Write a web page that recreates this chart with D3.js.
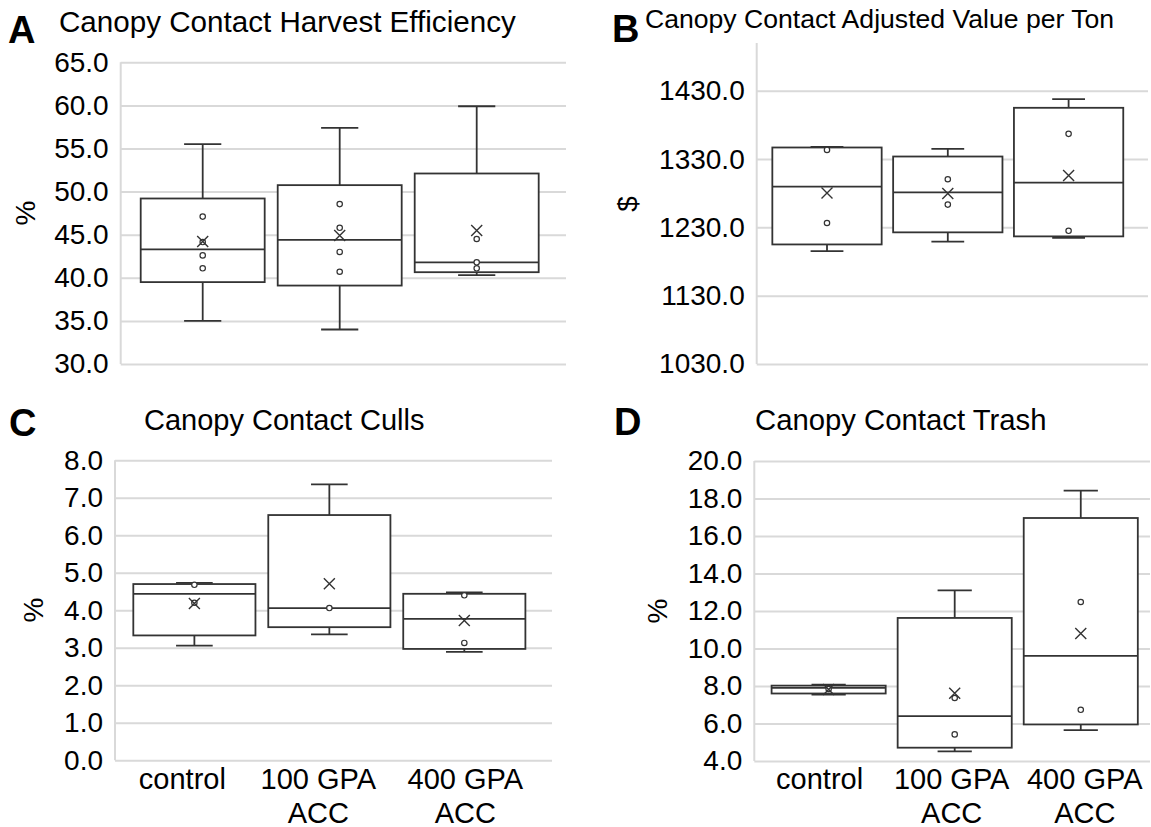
<!DOCTYPE html>
<html>
<head>
<meta charset="utf-8">
<script src="https://cdn.jsdelivr.net/npm/d3@7"></script>
<style>
  body { margin: 0; background: #fff; }
  svg text { font-family: "Liberation Sans", Arial, sans-serif; fill: #000; }
</style>
</head>
<body>
<div id="chart"></div>
<script>
const categories = ["control", "100 GPA ACC", "400 GPA ACC"];

// box stats per treatment
const harvestEfficiency = [
    {min: 35.0, q1: 39.5, median: 43.3, q3: 49.2, max: 55.5, mean: 44.2, points: [47.1, 44.15, 42.6, 41.1]},
    {min: 34.0, q1: 39.1, median: 44.4, q3: 50.75, max: 57.4, mean: 44.9, points: [48.55, 45.8, 43.0, 40.7]},
    {min: 40.3, q1: 40.65, median: 41.8, q3: 52.1, max: 59.9, mean: 45.5, points: [44.5, 41.8, 41.1]}
];
const valuePerTon = [
    {min: 1195.3, q1: 1205, median: 1289.7, q3: 1346.9, max: 1347.8, mean: 1280.4, points: [1343.4, 1236.4]},
    {min: 1209, q1: 1222.7, median: 1281.3, q3: 1333.7, max: 1344.9, mean: 1279.4, points: [1300.4, 1263.3]},
    {min: 1214.8, q1: 1216.8, median: 1295.5, q3: 1405, max: 1417.8, mean: 1305.8, points: [1366.9, 1225]}
];
const culls = [
    {min: 3.06, q1: 3.33, median: 4.44, q3: 4.70, max: 4.73, mean: 4.18, points: [4.68, 4.2]},
    {min: 3.36, q1: 3.55, median: 4.06, q3: 6.54, max: 7.36, mean: 4.71, points: [4.06]},
    {min: 2.89, q1: 2.97, median: 3.77, q3: 4.44, max: 4.48, mean: 3.73, points: [4.4, 3.13]}
];
const trash = [
    {min: 7.54, q1: 7.6, median: 7.9, q3: 8.02, max: 8.07, mean: 7.81, points: [7.84]},
    {min: 4.51, q1: 4.71, median: 6.39, q3: 11.63, max: 13.1, mean: 7.61, points: [7.36, 5.42]},
    {min: 5.65, q1: 5.95, median: 9.61, q3: 16.96, max: 18.42, mean: 10.8, points: [12.48, 6.73]}
];

const effTicks = [30, 35, 40, 45, 50, 55, 60, 65];
const valueTicks = [1030, 1130, 1230, 1330, 1430];
const cullTicks = [0, 1, 2, 3, 4, 5, 6, 7, 8];
const trashTicks = [4, 6, 8, 10, 12, 14, 16, 18, 20];

const panels = [
    {letter: "A", title: "Canopy Contact Harvest Efficiency", unit: "%", data: harvestEfficiency,
     ticks: effTicks, domain: [30, 65], yRange: [364, 62.3], left: 120.7, right: 566,
     xRange: [134.2, 545.2], showX: false,
     letterPos: [8, 43], titlePos: [59, 32], titleSize: 29.6, unitPos: [25, 213]},
    {letter: "B", title: "Canopy Contact Adjusted Value per Ton", unit: "$", data: valuePerTon,
     ticks: valueTicks, domain: [1030, 1500], yRange: [364, 42.9], left: 756.7, right: 1148,
     xRange: [766.6, 1129], showX: false,
     letterPos: [612, 42], titlePos: [645, 28], titleSize: 26.6, unitPos: [627, 204]},
    {letter: "C", title: "Canopy Contact Culls", unit: "%", data: culls,
     ticks: cullTicks, domain: [0, 8], yRange: [760.3, 460.3], left: 115, right: 552,
     xRange: [126.9, 531.8], showX: true, labelShift: [-12, -11, 1],
     letterPos: [9, 436], titlePos: [144, 430], titleSize: 29, unitPos: [33, 610]},
    {letter: "D", title: "Canopy Contact Trash", unit: "%", data: trash,
     ticks: trashTicks, domain: [4, 20], yRange: [761, 461], left: 754.3, right: 1150,
     xRange: [765.6, 1143.8], showX: true, labelShift: [-9, -3, 4],
     letterPos: [614, 435], titlePos: [755, 430], titleSize: 29.3, unitPos: [657, 611]}
];

const svg = d3.select("#chart")
    .append("svg")
    .attr("width", 1151)
    .attr("height", 827);

const gridColor = "#d9d9d9";
const boxColor = "#333";

panels.forEach(p => {
    const y = d3.scaleLinear().domain(p.domain).range(p.yRange);
    const x = d3.scalePoint().domain(categories).range(p.xRange).padding(0.5);
    const boxW = x.step() * 0.905;
    const capW = boxW * 0.3;

    const g = svg.append("g");

    // gridlines + tick labels
    const axis = g.append("g")
        .attr("transform", `translate(${p.left},0)`)
        .call(d3.axisLeft(y)
            .tickValues(p.ticks)
            .tickSize(-(p.right - p.left))
            .tickPadding(12)
            .tickFormat(d3.format(".1f")));
    axis.select(".domain").remove();
    axis.selectAll(".tick line").attr("stroke", gridColor).attr("stroke-width", 2);
    axis.selectAll(".tick text")
        .attr("font-size", 28)
        .attr("fill", "#000")
        .style("font-family", "'Liberation Sans', Arial, sans-serif");

    // vertical axis line
    g.append("line")
        .attr("x1", p.left).attr("x2", p.left)
        .attr("y1", y(p.domain[1])).attr("y2", y(p.domain[0]))
        .attr("stroke", gridColor).attr("stroke-width", 2);

    // boxes
    p.data.forEach((d, i) => {
        const cx = x(categories[i]);
        const bg = g.append("g").attr("fill", "none").attr("stroke", boxColor).attr("stroke-width", 1.8);

        bg.append("line").attr("x1", cx).attr("x2", cx).attr("y1", y(d.max)).attr("y2", y(d.q3));
        bg.append("line").attr("x1", cx).attr("x2", cx).attr("y1", y(d.q1)).attr("y2", y(d.min));
        bg.append("line").attr("x1", cx - capW / 2).attr("x2", cx + capW / 2).attr("y1", y(d.max)).attr("y2", y(d.max));
        bg.append("line").attr("x1", cx - capW / 2).attr("x2", cx + capW / 2).attr("y1", y(d.min)).attr("y2", y(d.min));

        bg.append("rect")
            .attr("x", cx - boxW / 2)
            .attr("y", y(d.q3))
            .attr("width", boxW)
            .attr("height", y(d.q1) - y(d.q3))
            .attr("fill", "#fff");

        bg.append("line").attr("x1", cx - boxW / 2).attr("x2", cx + boxW / 2)
            .attr("y1", y(d.median)).attr("y2", y(d.median));

        bg.selectAll("circle")
            .data(d.points)
            .enter()
            .append("circle")
            .attr("cx", cx)
            .attr("cy", v => y(v))
            .attr("r", 2.7)
            .attr("fill", "#fff")
            .attr("stroke-width", 1.2);

        const m = 5.5;
        bg.append("path")
            .attr("d", `M${cx - m},${y(d.mean) - m}L${cx + m},${y(d.mean) + m}M${cx - m},${y(d.mean) + m}L${cx + m},${y(d.mean) - m}`)
            .attr("stroke-width", 1.4);
    });

    // x labels
    if (p.showX) {
        const lab = g.selectAll(".xlab")
            .data(categories)
            .enter()
            .append("text")
            .attr("text-anchor", "middle")
            .attr("font-size", 29)
            .attr("y", 788.5);
        lab.each(function(d, i) {
            const lx = x(d) + p.labelShift[i];
            const lines = d.replace(" ACC", "\nACC").split("\n");
            d3.select(this).selectAll("tspan")
                .data(lines)
                .enter()
                .append("tspan")
                .attr("x", lx)
                .attr("dy", (t, j) => j === 0 ? 0 : 34)
                .text(t => t);
        });
    }

    // titles
    g.append("text")
        .attr("x", p.letterPos[0]).attr("y", p.letterPos[1])
        .attr("font-size", 38).attr("font-weight", "bold")
        .text(p.letter);

    g.append("text")
        .attr("x", p.titlePos[0]).attr("y", p.titlePos[1])
        .attr("font-size", p.titleSize)
        .text(p.title);

    g.append("text")
        .attr("transform", `translate(${p.unitPos[0]},${p.unitPos[1]}) rotate(-90)`)
        .attr("text-anchor", "middle")
        .attr("dy", "0.35em")
        .attr("font-size", 28)
        .text(p.unit);
});
</script>
</body>
</html>
